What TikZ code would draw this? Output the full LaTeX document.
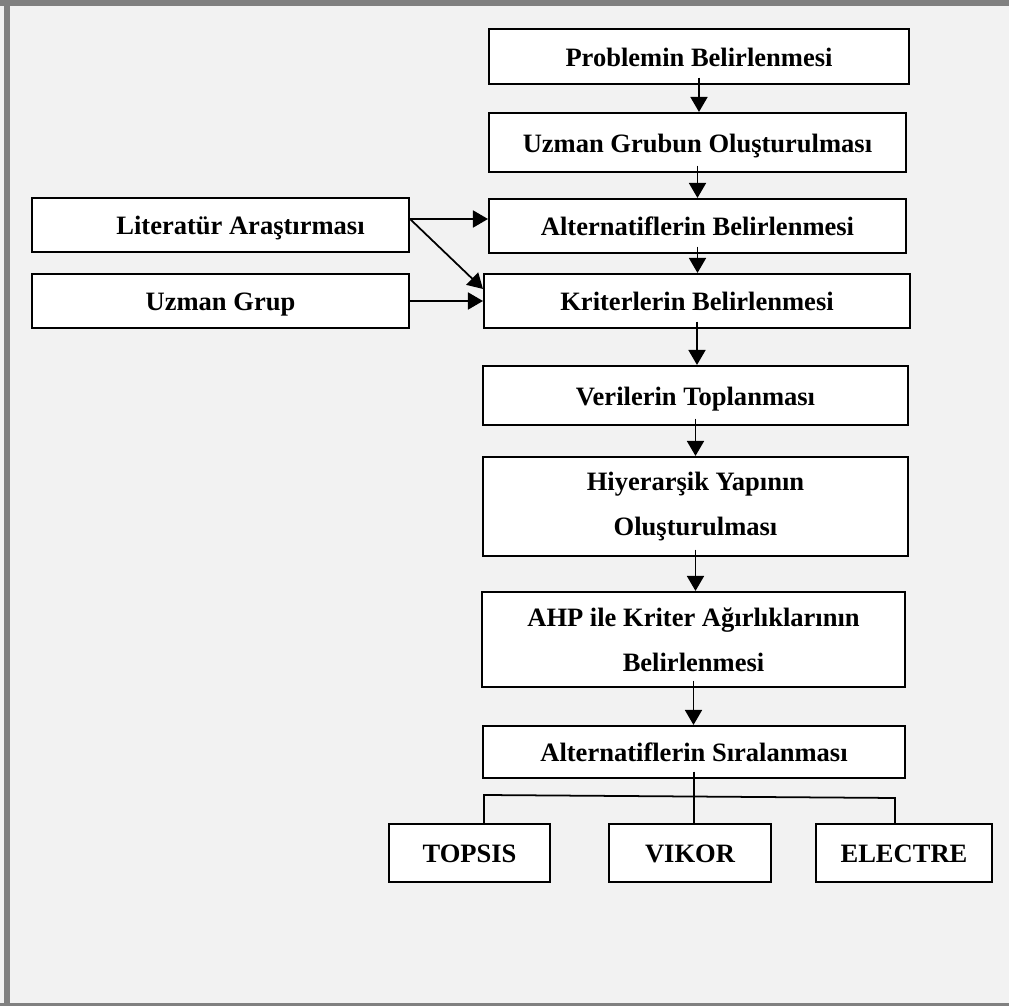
\documentclass[tikz,border=0pt]{standalone}
\usepackage{fontspec}
\setmainfont{Liberation Serif}
\usetikzlibrary{arrows.meta,calc,positioning}
\definecolor{pagebg}{HTML}{F2F2F2}
\definecolor{framegray}{HTML}{808080}

\tikzset{
  box/.style={draw, line width=1.2pt, fill=white, inner sep=0pt, align=center,
    font=\fontsize{15.1pt}{25.6pt}\selectfont\bfseries},
  onebox/.style={box, text height=14pt, text depth=3pt},
  arr/.style={line width=1pt, -{Triangle[length=0.3cm,width=0.34cm]}},
  into/.style={arr, shorten <=-0.15cm},
  branch/.style={line width=1pt},
}

\begin{document}
\begin{tikzpicture}[x=0.02cm, y=-0.02cm]
    % page and frame
    \useasboundingbox (0,0) rectangle (1009,1006);
    \fill[pagebg] (0,0) rectangle (1009,1006);
    \fill[framegray] (0,0) rectangle (1009,6);
    \fill[framegray] (4,0) rectangle (10,1006);
    \fill[framegray] (0,1003) rectangle (1009,1006);

    % main column
    \node[onebox, minimum width=8.4cm, minimum height=1.1cm] (prob) at (699,56.5) {Problemin Belirlenmesi};
    \node[onebox, minimum width=8.34cm, minimum height=1.18cm] (grup) at (697.5,142.5) {Uzman Grubun Oluşturulması};
    \node[onebox, minimum width=8.34cm, minimum height=1.08cm] (alt) at (697.5,226) {Alternatiflerin Belirlenmesi};
    \node[onebox, minimum width=8.52cm, minimum height=1.08cm] (krit) at (697,301) {Kriterlerin Belirlenmesi};
    \node[onebox, minimum width=8.5cm, minimum height=1.18cm] (veri) at (695.5,395.5) {Verilerin Toplanması};
    \node[box, minimum width=8.5cm, minimum height=1.98cm] (hiyer) at (695.5,506.5) {Hiyerarşik Yapının\\Oluşturulması};
    \node[box, minimum width=8.46cm, minimum height=1.9cm] (ahp) at (693.5,639.5) {AHP ile Kriter Ağırlıklarının\\Belirlenmesi};
    \node[onebox, minimum width=8.44cm, minimum height=1.04cm] (sira) at (694,752) {Alternatiflerin Sıralanması};

    % inputs on the left
    \node[onebox, minimum width=7.54cm, minimum height=1.08cm] (lit) at (220.5,225) {\hspace*{0.8cm}Literatür Araştırması};
    \node[onebox, minimum width=7.54cm, minimum height=1.08cm] (uzman) at (220.5,301) {Uzman Grup};

    % methods
    \node[onebox, minimum width=3.22cm, minimum height=1.16cm] (topsis) at (469.5,853) {TOPSIS};
    \node[onebox, minimum width=3.24cm, minimum height=1.16cm] (vikor) at (690,853) {VIKOR};
    \node[onebox, minimum width=3.52cm, minimum height=1.16cm] (electre) at (904,853) {ELECTRE};

    % flow arrows
    \draw[into] (prob.south) -- (prob.south |- grup.north);
    \draw[into] (grup.south) -- (grup.south |- alt.north);
    \draw[into] (alt.south) -- (alt.south |- krit.north);
    \draw[into] (krit.south) -- (krit.south |- veri.north);
    \draw[into] (veri.south) -- (veri.south |- hiyer.north);
    \draw[into] (hiyer.south) -- (hiyer.south |- ahp.north);
    \draw[into] (ahp.south) -- (ahp.south |- sira.north);

    \coordinate (litout) at ($(lit.east)+(0,-6)$);
    \draw[arr] (litout) -- (litout -| alt.west);
    \draw[arr] (litout) -- ($(krit.north west)+(0,16)$);
    \draw[arr] (uzman.east) -- (uzman.east -| krit.west);

    % branches to the methods
    \coordinate (bl) at (484,795);
    \coordinate (br) at (895,798);
    \draw[branch, shorten <=-0.15cm] (sira.south) -- (sira.south |- vikor.north);
    \draw[branch] (bl |- topsis.north) -- (bl) -- (br) -- (br |- electre.north);
\end{tikzpicture}
\end{document}
